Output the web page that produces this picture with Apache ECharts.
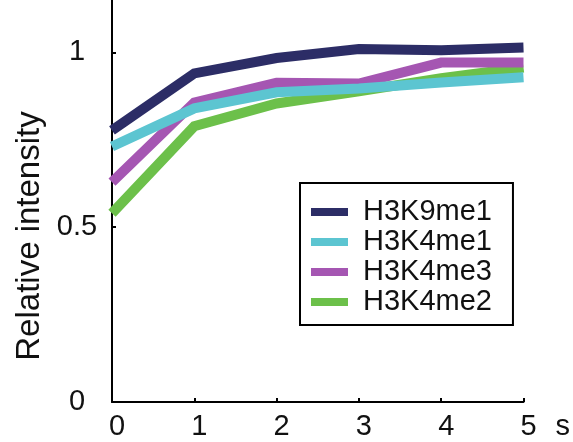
<!DOCTYPE html>
<html>
<head>
<meta charset="utf-8">
<script src="https://cdn.jsdelivr.net/npm/echarts@6/dist/echarts.min.js"></script>
<style>
html,body{margin:0;padding:0;background:#fff;}
#chart{width:573px;height:442px;}
</style>
</head>
<body>
<div id="chart"></div>
<script>
// Data
var times = [0, 1, 2, 3, 4, 5];
var H3K9me1 = [0.777, 0.940, 0.984, 1.010, 1.006, 1.014];
var H3K4me1 = [0.731, 0.840, 0.886, 0.897, 0.914, 0.929];
var H3K4me3 = [0.629, 0.857, 0.913, 0.911, 0.971, 0.971];
var H3K4me2 = [0.540, 0.789, 0.854, 0.889, 0.926, 0.957];
var yTicks = [0, 0.5, 1];
var xTicks = [0, 1, 2, 3, 4, 5];
var legendOrder = ['H3K9me1', 'H3K4me1', 'H3K4me3', 'H3K4me2'];

function pairs(vals) { return times.map(function (t, i) { return [t, vals[i]]; }); }

var FONT = '"Liberation Sans", Arial, sans-serif';
var colors = {
  H3K9me1: '#2c2d66',
  H3K4me1: '#5cc5d1',
  H3K4me3: '#a556b2',
  H3K4me2: '#6cc04a'
};
function mkSeries(name, vals) {
  return {
    name: name, type: 'line', data: pairs(vals),
    showSymbol: false, symbol: 'none',
    color: colors[name],
    lineStyle: { width: 10, color: colors[name], cap: 'butt', join: 'miter' },
    emphasis: { disabled: true }
  };
}

var chart = echarts.init(document.getElementById('chart'), null, { renderer: 'canvas' });
chart.setOption({
  animation: false,
  backgroundColor: '#fff',
  grid: { left: 112, right: 47, top: 0, bottom: 40, containLabel: false },
  xAxis: {
    type: 'value', min: 0, max: 5, interval: 1,
    name: 's', nameLocation: 'end', nameGap: 32,
    nameTextStyle: { fontFamily: FONT, fontSize: 29, color: '#111', verticalAlign: 'top', lineHeight: 29, padding: [10, 0, 0, 0] },
    axisLine: { show: true, onZero: false, lineStyle: { color: '#000', width: 2 } },
    axisTick: { show: true, inside: true, length: 4, lineStyle: { color: '#000', width: 2 }, customValues: xTicks },
    axisLabel: { show: true, margin: 10, fontFamily: FONT, fontSize: 29, lineHeight: 29, color: '#111', padding: [0, 0, 0, 10], customValues: xTicks },
    splitLine: { show: false }
  },
  yAxis: {
    type: 'value', min: 0, max: 1.15,
    axisLine: { show: true, onZero: false, lineStyle: { color: '#000', width: 2 } },
    axisTick: { show: true, inside: true, length: 4, lineStyle: { color: '#000', width: 2 }, customValues: yTicks },
    axisLabel: { show: true, margin: 35, align: 'center', fontFamily: FONT, fontSize: 29, lineHeight: 29, color: '#111', padding: [0, 0, 10, 0], customValues: yTicks },
    splitLine: { show: false }
  },
  legend: {
    data: legendOrder.map(function (n) { return { name: n, icon: 'rect' }; }),
    orient: 'vertical',
    left: 300, top: 183,
    itemWidth: 37, itemHeight: 8, itemGap: 0,
    padding: [14, 21, 8, 11],
    borderColor: '#000', borderWidth: 2,
    backgroundColor: '#fff',
    selectedMode: false,
    textStyle: { fontFamily: FONT, fontSize: 29, lineHeight: 30, color: '#111', padding: [0, 0, 0, 10] }
  },
  graphic: [{
    type: 'text', x: 30, y: 236, rotation: Math.PI / 2,
    style: { text: 'Relative intensity', fontFamily: FONT, fontSize: 33, fill: '#111', align: 'center', verticalAlign: 'middle' }
  }],
  series: [
    mkSeries('H3K4me2', H3K4me2),
    mkSeries('H3K4me3', H3K4me3),
    mkSeries('H3K4me1', H3K4me1),
    mkSeries('H3K9me1', H3K9me1)
  ]
});
</script>
</body>
</html>
